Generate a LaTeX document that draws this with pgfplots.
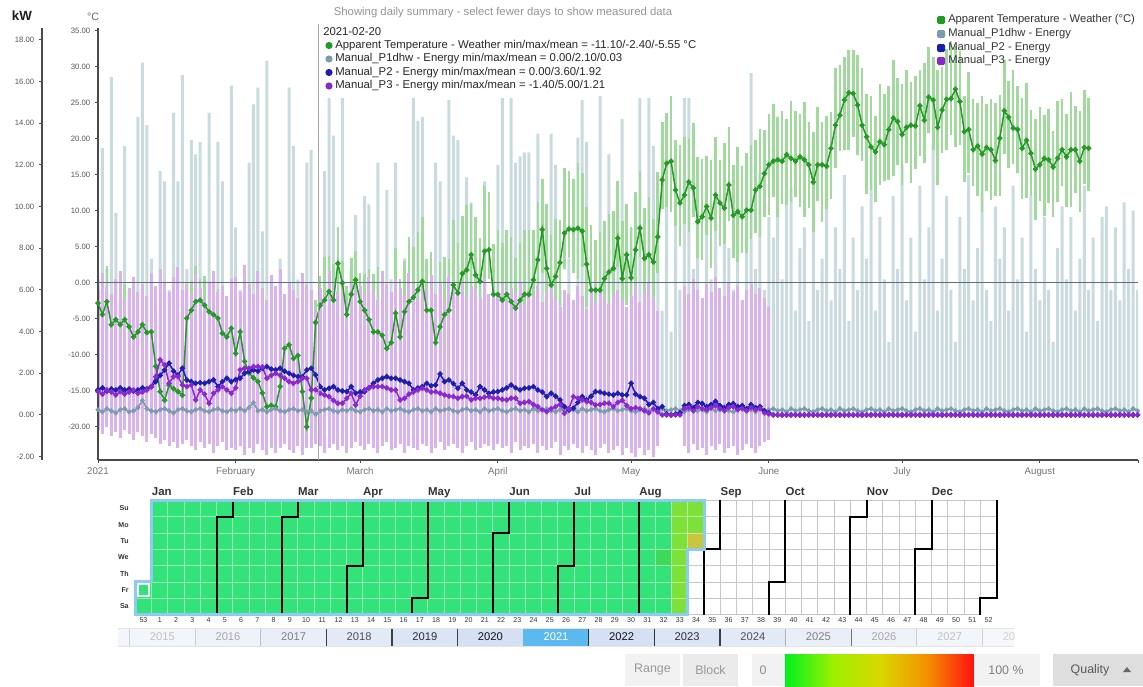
\documentclass[border=0pt]{standalone}
\usepackage{pgfplots}
\usepackage{pgfplotstable}
\pgfplotsset{compat=1.18}
\usepackage{fontspec}
\setmainfont{Liberation Sans}
\newlength\pxu \setlength\pxu{0.75pt}
\newcommand\fsz[1]{\fontsize{#1}{#1}\selectfont}

\definecolor{tgreen}{HTML}{239A23}
\definecolor{tgbar}{HTML}{A2D99D}
\definecolor{p1bar}{HTML}{C9DBDF}
\definecolor{p1line}{HTML}{7A9BB0}
\definecolor{p2line}{HTML}{1E1EAE}
\definecolor{p3line}{HTML}{8B27CF}
\definecolor{p3bar}{HTML}{D9B2EE}
\definecolor{axisc}{HTML}{4A4A4A}
\definecolor{zeroc}{HTML}{5D6B85}
\definecolor{ticklab}{HTML}{555555}
\definecolor{calgreen}{HTML}{33E37A}
\definecolor{calyg}{HTML}{7EE03A}
\definecolor{calolive}{HTML}{C9C53E}
\definecolor{calg2}{HTML}{3ED85A}
\definecolor{selblue}{HTML}{8CCBF2}
\definecolor{yr21}{HTML}{5CB9EF}
\definecolor{yb1}{HTML}{D5E0F5}
\definecolor{yb2}{HTML}{DCE5F6}
\definecolor{yb3}{HTML}{E2E9F7}
\definecolor{yb4}{HTML}{E9EEF8}
\definecolor{yb5}{HTML}{EEF2F9}
\definecolor{yb6}{HTML}{F2F5FA}
\definecolor{yb7}{HTML}{F5F7FB}
\definecolor{q0}{HTML}{00F020}
\definecolor{q1}{HTML}{9CF000}
\definecolor{q2}{HTML}{D8D800}
\definecolor{q3}{HTML}{F59000}
\definecolor{q4}{HTML}{FF1010}
\pgfdeclarehorizontalshading{qual}{100bp}{color(0bp)=(q0); color(25bp)=(q0); color(37.5bp)=(q1); color(50bp)=(q2); color(62.5bp)=(q3); color(75bp)=(q4); color(100bp)=(q4)}

\pgfplotstableread{
d lo hi t
0 -6.8 0.2 -2.8
1 -9.4 0.4 -4.4
2 -5.6 2.4 -2.6
3 -11.8 -2.8 -5.8
4 -9.1 -1.1 -5.1
5 -10.8 -3.8 -5.8
6 -9.1 -0.1 -5.1
7 -9.1 -2.1 -6.1
8 -12.5 -4.5 -7.5
9 -12.8 -1.8 -6.8
10 -9.8 -2.8 -5.8
11 -11.9 -2.9 -6.9
12 -9.8 -1.8 -6.8
13 -17.6 -8.6 -11.6
14 -19.1 -11.1 -15.1
15 -21.3 -14.3 -16.3
16 -18.2 -9.2 -14.2
17 -17.7 -10.7 -14.7
18 -20.1 -12.1 -15.1
19 -21.6 -10.6 -15.6
20 -8.9 -1.9 -4.9
21 -8.8 0.3 -3.8
22 -5.6 2.4 -2.6
23 -8.4 0.6 -2.4
24 -7.1 0.9 -3.1
25 -9.0 -2.0 -4.0
26 -8.4 0.6 -4.4
27 -7.9 -0.9 -4.9
28 -12.0 -4.0 -7.0
29 -13.5 -2.5 -7.5
30 -10.3 -3.3 -6.3
31 -14.8 -5.8 -9.8
32 -9.8 -1.8 -6.8
33 -16.9 -7.9 -10.9
34 -16.5 -8.5 -12.5
35 -18.2 -11.2 -13.2
36 -17.7 -8.7 -13.7
37 -18.3 -11.3 -15.3
38 -22.2 -14.2 -17.2
39 -23.0 -12.0 -17.0
40 -21.2 -14.2 -17.2
41 -19.4 -10.4 -14.4
42 -12.1 -4.1 -9.1
43 -14.6 -5.6 -8.6
44 -14.5 -6.5 -10.5
45 -15.1 -8.1 -10.1
46 -19.1 -10.1 -15.1
47 -23.0 -16.0 -20.0
48 -21.0 -13.0 -16.0
49 -11.1 -2.4 -5.5
50 -9.1 0.9 -3.1
51 -7.4 3.6 -2.4
52 -5.2 3.8 -1.2
53 -8.4 2.6 -2.4
54 -1.3 7.7 2.7
55 -6.0 3.0 0.0
56 -9.4 -0.4 -4.4
57 -6.6 3.4 -1.6
58 -3.6 4.4 0.4
59 -8.6 1.4 -2.6
60 -8.8 1.3 -3.8
61 -10.1 1.9 -5.1
62 -12.8 1.2 -6.8
63 -10.8 2.2 -6.8
64 -14.3 -0.3 -7.3
65 -14.1 -1.1 -9.1
66 -14.3 -2.3 -8.3
67 -9.2 4.8 -4.2
68 -11.5 0.5 -7.5
69 -10.0 3.0 -4.0
70 -9.6 6.4 -2.6
71 -7.0 5.0 -2.0
72 -7.0 7.0 -1.0
73 -3.8 9.2 0.2
74 -10.8 3.3 -3.8
75 -8.8 4.3 -3.8
76 -14.3 -2.3 -8.3
77 -11.1 2.9 -6.1
78 -8.4 3.6 -4.4
79 -9.8 3.3 -3.8
80 -7.3 8.7 -0.3
81 -6.4 5.6 -1.4
82 -4.7 9.3 1.3
83 -2.2 10.8 1.8
84 -3.1 10.9 3.9
85 -3.9 9.1 1.1
86 -5.8 6.2 0.2
87 -0.7 13.4 4.4
88 0.6 12.6 4.6
89 -7.6 5.4 -1.6
90 -8.6 7.4 -1.6
91 -7.4 5.6 -2.4
92 -7.6 7.4 -1.6
93 -6.6 6.4 -2.6
94 -10.5 3.5 -3.5
95 -7.4 5.6 -2.4
96 -7.6 7.4 -1.6
97 -5.6 7.4 -1.6
98 -6.6 7.4 0.4
99 -2.8 11.2 3.2
100 1.4 14.4 7.4
101 -2.0 11.0 2.0
102 -7.3 6.7 -0.3
103 -4.1 8.9 0.9
104 -3.2 8.8 2.8
105 1.9 15.9 6.9
106 3.5 15.5 7.5
107 1.4 14.4 7.4
108 0.6 16.6 7.6
109 2.2 15.2 7.2
110 -3.4 10.6 2.6
111 -5.0 8.0 -1.0
112 -8.0 6.0 -1.0
113 -6.0 7.0 -1.0
114 -4.4 8.6 0.6
115 -4.5 9.5 1.5
116 -3.0 10.0 2.0
117 2.2 14.2 6.2
118 -5.4 8.6 0.6
119 -3.1 10.9 3.9
120 -4.4 7.7 0.7
121 -1.4 12.6 4.6
122 3.6 15.6 7.6
123 -3.6 10.4 3.4
124 -1.1 11.9 3.9
125 -3.1 8.9 2.9
126 1.4 15.4 6.4
127 10.3 22.3 14.3
128 10.6 23.6 16.6
129 9.9 25.9 16.9
130 7.9 19.9 12.9
131 5.1 19.1 11.1
132 8.2 20.2 12.2
133 7.0 20.0 14.0
134 9.2 22.2 13.2
135 3.5 17.5 8.5
136 3.2 17.2 9.2
137 6.6 17.6 10.6
138 2.0 17.0 9.0
139 7.2 20.2 12.2
140 5.1 17.1 11.1
141 5.4 19.4 10.4
142 8.6 21.6 13.6
143 3.4 16.4 9.4
144 2.9 18.9 9.9
145 4.2 16.2 9.2
146 4.1 18.1 10.1
147 6.1 19.1 10.1
148 6.9 19.9 12.9
149 6.4 21.4 13.4
150 9.2 21.2 15.2
151 9.4 23.4 16.4
152 11.9 24.9 16.9
153 9.1 23.1 17.1
154 10.9 23.9 16.9
155 10.8 22.8 17.8
156 11.3 25.3 17.3
157 11.9 23.9 16.9
158 10.5 23.5 17.5
159 9.1 25.1 17.1
160 10.4 22.4 16.4
161 7.0 21.0 14.0
162 11.4 24.4 16.4
163 8.4 22.4 16.4
164 10.2 23.2 16.2
165 11.7 23.7 18.7
166 15.9 29.9 21.9
167 18.3 30.3 23.3
168 18.4 31.4 25.4
169 18.4 32.4 26.4
170 20.3 32.3 26.3
171 17.7 31.7 24.7
172 16.9 29.9 21.9
173 12.3 26.3 20.3
174 12.9 25.9 18.9
175 11.2 23.2 18.2
176 13.6 27.6 19.6
177 14.2 26.2 19.2
178 14.3 27.3 21.3
179 14.9 30.9 22.9
180 16.4 28.4 22.4
181 13.6 27.6 20.6
182 16.6 29.6 21.6
183 13.9 27.9 21.9
184 15.8 28.8 21.8
185 17.6 29.6 24.6
186 16.6 30.6 22.6
187 20.8 32.8 25.8
188 18.4 31.4 25.4
189 13.6 29.6 21.6
190 18.0 30.0 24.0
191 18.5 32.5 25.5
192 20.6 33.6 25.6
193 18.9 32.9 26.9
194 19.2 32.2 25.2
195 14.0 26.0 21.0
196 15.3 29.3 21.3
197 13.5 25.5 18.5
198 12.0 25.0 19.0
199 9.9 25.9 17.9
200 12.8 24.8 18.8
201 11.5 25.5 18.5
202 12.0 25.0 17.0
203 12.1 26.1 20.1
204 17.9 30.9 23.9
205 16.0 28.0 23.0
206 16.5 29.5 21.5
207 15.3 27.3 21.3
208 11.7 25.7 18.7
209 11.8 27.8 19.8
210 12.0 24.0 18.0
211 8.8 22.8 15.8
212 11.4 24.4 16.4
213 9.3 23.3 17.3
214 11.1 24.1 17.1
215 9.1 21.1 16.1
216 11.3 25.3 17.3
217 13.5 25.5 18.5
218 10.5 23.5 17.5
219 10.5 26.5 18.5
220 12.5 24.5 18.5
221 9.9 23.9 16.9
222 13.8 26.8 18.8
223 12.7 25.7 18.7
}\temptab

\pgfplotstableread{
d p1max p1 p2 p3
0 6.5 0.25 1.2 1.12
1 12.8 0.15 1.3 1.0
2 7.0 0.3 1.15 1.2
3 16.2 0.2 1.25 1.1
4 9.7 0.1 1.2 0.96
5 5.5 0.25 1.3 1.12
6 12.9 0.3 1.2 1.0
7 6.0 0.15 1.25 1.1
8 4.5 0.2 1.15 1.2
9 14.3 0.35 1.2 1.04
10 16.9 0.7 1.3 1.1
11 13.9 0.3 1.25 1.2
12 7.5 0.2 1.35 1.36
13 5.0 0.15 1.6 1.84
14 11.7 0.25 1.9 2.64
15 11.2 0.3 2.16 2.4
16 6.0 0.2 2.48 1.52
17 14.5 0.1 2.1 1.84
18 11.2 0.25 1.92 1.84
19 16.3 0.3 2.24 1.44
20 7.0 0.2 1.68 1.36
21 13.2 0.15 1.6 1.44
22 12.5 0.25 1.52 0.72
23 13.1 0.3 1.55 1.2
24 6.5 0.2 1.52 1.0
25 14.5 0.15 1.6 0.56
26 5.0 0.25 1.68 1.04
27 13.1 0.3 1.36 1.2
28 11.2 0.2 1.6 1.36
29 4.0 0.15 1.76 1.2
30 15.8 0.25 1.6 1.04
31 9.0 0.2 1.7 1.3
32 6.0 0.3 1.76 2.16
33 5.5 0.2 2.0 2.24
34 12.1 0.35 2.08 2.24
35 14.9 0.6 2.16 2.32
36 15.7 0.2 2.1 2.32
37 8.8 0.25 2.24 2.3
38 17.0 0.15 2.32 1.76
39 6.0 0.25 2.2 1.9
40 4.5 0.3 2.16 2.0
41 7.5 0.2 2.24 1.9
42 5.0 0.15 2.1 1.76
43 15.7 0.25 2.0 1.6
44 12.9 0.3 1.9 1.52
45 6.5 0.2 1.84 1.6
46 5.0 0.25 1.84 1.76
47 12.1 0.15 2.16 1.76
48 12.7 0.2 2.24 1.2
49 2.1 0.03 1.92 1.21
50 5.5 0.2 1.36 1.04
51 11.7 0.25 1.2 0.96
52 15.2 0.3 1.28 0.88
53 13.4 0.2 1.36 0.7
54 6.0 0.15 1.2 0.56
55 15.2 0.25 1.15 0.56
56 4.0 0.2 1.12 0.8
57 7.0 0.3 1.36 1.04
58 9.6 0.2 1.04 0.48
59 5.0 0.15 1.1 0.9
60 10.5 0.25 1.12 1.2
61 10.1 0.3 1.3 1.3
62 6.0 0.2 1.52 1.36
63 12.1 0.25 1.68 1.36
64 4.5 0.15 1.76 1.36
65 10.8 0.3 1.84 1.3
66 6.5 0.2 1.76 1.2
67 12.1 0.25 1.76 1.2
68 5.0 0.3 1.68 0.72
69 7.5 0.2 1.6 0.8
70 4.0 0.15 1.52 1.0
71 15.2 0.25 1.2 1.1
72 14.1 0.3 1.3 1.2
73 14.3 0.2 1.36 1.28
74 6.0 0.25 1.52 1.2
75 5.0 0.15 1.4 1.1
76 12.1 0.3 1.44 1.12
77 11.2 0.2 1.97 1.04
78 7.0 0.25 1.6 0.96
79 15.1 0.3 1.68 0.9
80 13.4 0.2 1.5 0.88
81 13.2 0.15 1.28 0.8
82 6.5 0.25 1.52 0.88
83 11.4 0.3 1.2 0.9
84 10.2 0.2 1.1 0.72
85 5.0 0.25 0.96 0.8
86 7.0 0.15 1.36 0.8
87 11.2 0.3 1.2 0.85
88 4.5 0.2 1.04 0.88
89 6.0 0.25 1.1 0.8
90 12.0 0.3 1.12 0.8
91 15.2 0.2 1.2 0.75
92 5.5 0.15 1.3 0.72
93 15.2 0.25 1.44 0.8
94 12.1 0.3 1.3 0.8
95 12.4 0.2 1.2 0.56
96 12.6 0.25 1.28 0.6
97 12.6 0.15 1.3 0.64
98 5.0 0.3 1.36 0.5
99 13.5 0.2 1.2 0.4
100 7.0 0.25 1.1 0.25
101 4.5 0.3 0.88 0.16
102 13.5 0.2 1.04 0.3
103 12.0 0.15 0.9 0.4
104 6.0 0.25 0.72 0.5
105 5.0 0.3 0.4 0.08
106 7.5 0.2 0.24 0.3
107 4.0 0.25 0.32 0.88
108 13.3 0.15 0.6 0.8
109 15.1 0.3 0.88 0.72
110 13.1 0.2 0.72 0.64
111 6.0 0.25 0.9 0.6
112 5.0 0.3 1.12 0.48
113 15.3 0.2 1.1 0.5
114 8.0 0.15 1.04 0.56
115 12.5 0.25 1.0 0.56
116 6.5 0.3 0.96 0.4
117 10.0 0.2 1.04 0.6
118 14.2 0.25 0.96 0.7
119 5.0 0.3 0.96 0.45
120 9.0 0.2 1.52 0.3
121 7.0 0.15 1.0 0.35
122 15.2 0.25 0.88 0.3
123 6.0 0.3 0.8 0.2
124 15.2 0.2 0.5 0.1
125 12.9 0.25 0.6 0.3
126 8.0 0.15 0.3 0.15
127 5.0 0.3 0.4 0
128 10.5 0.2 0.05 0
129 4.0 0.25 0 0
130 9.5 0.3 0.05 0
131 6.0 0.2 0.1 0
132 15.2 0.15 0.45 0.3
133 15.2 0.25 0.5 0.35
134 7.0 0.3 0.35 0.2
135 11.0 0.2 0.6 0.4
136 5.0 0.25 0.55 0.3
137 9.5 0.15 0.4 0.25
138 6.5 0.3 0.5 0.35
139 10.5 0.2 0.65 0.45
140 4.5 0.25 0.45 0.3
141 12.2 0.3 0.35 0.2
142 8.0 0.2 0.5 0.35
143 6.0 0.15 0.55 0.4
144 11.5 0.25 0.4 0.25
145 5.5 0.3 0.45 0.3
146 9.0 0.2 0.3 0.2
147 16.4 0.25 0.5 0.35
148 7.0 0.15 0.35 0.25
149 11.6 0.3 0.4 0.3
150 6.0 0.2 0.2 0.1
151 9.5 0.25 0.1 0.05
152 8.5 0.3 0 0
153 10.7 0.2 0 0
154 6.5 0.25 0 0
155 14.1 0.15 0 0
156 10.9 0.3 0 0
157 5.0 0.2 0 0
158 8.0 0.25 0 0
159 9.0 0.3 0 0
160 4.5 0.2 0 0
161 11.9 0.15 0 0
162 6.0 0.25 0 0
163 7.5 0.3 0 0
164 10.0 0.2 0 0
165 5.5 0.25 0 0
166 9.0 0.15 0 0
167 7.0 0.3 0 0
168 11.5 0.2 0 0
169 4.5 0.25 0 0
170 8.5 0.3 0 0
171 6.0 0.2 0 0
172 10.0 0.15 0 0
173 7.5 0.25 0 0
174 12.5 0.3 0 0
175 5.0 0.2 0 0
176 9.5 0.25 0 0
177 6.5 0.15 0 0
178 3.5 0.3 0 0
179 10.5 0.2 0 0
180 7.0 0.25 0 0
181 12.0 0.3 0 0
182 5.5 0.2 0 0
183 8.5 0.15 0 0
184 4.0 0.25 0 0
185 11.0 0.3 0 0
186 6.5 0.2 0 0
187 9.0 0.25 0 0
188 13.0 0.15 0 0
189 5.0 0.3 0 0
190 7.5 0.2 0 0
191 10.5 0.25 0 0
192 6.0 0.3 0 0
193 3.5 0.2 0 0
194 9.5 0.15 0 0
195 7.0 0.25 0 0
196 11.5 0.3 0 0
197 5.5 0.2 0 0
198 8.0 0.25 0 0
199 12.5 0.15 0 0
200 6.0 0.3 0 0
201 4.5 0.2 0 0
202 10.0 0.25 0 0
203 7.5 0.3 0 0
204 9.0 0.2 0 0
205 5.0 0.15 0 0
206 11.0 0.25 0 0
207 6.5 0.3 0 0
208 8.5 0.2 0 0
209 4.0 0.25 0 0
210 10.5 0.15 0 0
211 7.0 0.3 0 0
212 5.5 0.2 0 0
213 9.5 0.25 0 0
214 6.0 0.3 0 0
215 3.5 0.2 0 0
216 8.0 0.15 0 0
217 10.0 0.25 0 0
218 6.5 0.3 0 0
219 9.5 0.2 0 0
220 5.0 0.25 0 0
221 7.5 0.15 0 0
222 11.0 0.3 0 0
223 6.0 0.2 0 0
224 8.5 0.25 0 0
225 4.5 0.3 0 0
226 9.5 0.2 0 0
227 10.0 0.15 0 0
228 6.0 0.25 0 0
229 9.0 0.3 0 0
230 5.5 0.2 0 0
231 10.2 0.25 0 0
232 7.0 0.15 0 0
233 9.8 0.3 0 0
234 6.0 0.2 0 0
}\energytab

\pgfplotstableread{
d lo hi
0 -0.7 6.0
1 -0.9 6.8
2 -0.6 6.2
3 -1.0 5.8
4 -0.8 6.5
5 -1.1 6.9
6 -0.7 5.6
7 -0.9 6.1
8 -1.2 6.6
9 -0.8 5.9
10 -1.0 6.3
11 -1.3 5.7
12 -0.9 6.8
13 -1.1 6.2
14 -1.4 7.0
15 -1.2 6.4
16 -1.5 5.9
17 -1.3 6.6
18 -1.6 7.1
19 -1.4 6.0
20 -1.2 6.3
21 -1.5 5.8
22 -1.7 6.7
23 -1.3 6.1
24 -1.6 5.5
25 -1.4 6.4
26 -1.8 6.9
27 -1.5 5.9
28 -1.3 6.2
29 -1.7 5.7
30 -1.6 6.5
31 -1.7 6.6
32 -1.5 5.9
33 -1.9 7.2
34 -1.6 6.3
35 -1.8 5.8
36 -1.4 6.9
37 -1.7 6.1
38 -1.9 5.5
39 -1.5 6.7
40 -1.8 6.2
41 -1.6 7.0
42 -1.4 5.8
43 -1.7 6.4
44 -1.8 6.0
45 -1.5 5.6
46 -1.9 6.8
47 -1.6 6.3
48 -1.6 6.0
49 -1.4 5.0
50 -1.5 6.1
51 -1.8 5.7
52 -1.6 6.9
53 -1.4 6.2
54 -1.7 5.9
55 -1.5 6.6
56 -1.8 5.4
57 -1.6 6.3
58 -1.3 6.0
59 -1.5 6.2
60 -1.7 5.8
61 -1.4 6.6
62 -1.6 6.0
63 -1.8 5.5
64 -1.5 6.9
65 -1.3 6.3
66 -1.7 5.9
67 -1.6 6.5
68 -1.4 6.1
69 -1.8 5.7
70 -1.5 6.8
71 -1.6 6.2
72 -1.7 5.6
73 -1.4 6.4
74 -1.5 6.0
75 -1.8 6.7
76 -1.6 5.8
77 -1.3 6.3
78 -1.7 5.5
79 -1.5 6.6
80 -1.4 6.1
81 -1.6 5.9
82 -1.8 6.4
83 -1.5 5.7
84 -1.3 6.2
85 -1.7 6.0
86 -1.6 5.6
87 -1.4 6.5
88 -1.5 5.8
89 -1.7 6.1
90 -1.4 5.9
91 -1.6 6.3
92 -1.5 5.5
93 -1.8 6.1
94 -1.3 5.8
95 -1.7 6.4
96 -1.5 5.3
97 -1.6 6.0
98 -1.4 5.7
99 -1.8 6.2
100 -1.5 5.4
101 -1.7 5.9
102 -1.6 6.3
103 -1.3 5.6
104 -1.9 5.2
105 -1.5 6.0
106 -1.7 5.8
107 -1.4 5.5
108 -1.6 6.2
109 -1.8 5.7
110 -1.5 5.1
111 -1.7 5.9
112 -1.9 5.4
113 -1.6 6.1
114 -1.4 5.6
115 -1.8 5.3
116 -1.7 5.8
117 -1.5 6.0
118 -1.9 5.5
119 -1.6 5.2
120 -1.8 5.7
121 -2.0 6.2
122 -1.6 5.4
123 -1.9 5.9
124 -1.7 6.4
125 -2.0 5.6
126 -1.5 5.0
132 -1.5 6.2
133 -1.8 5.8
134 -1.4 6.5
135 -1.7 6.0
136 -1.6 5.6
137 -1.9 6.3
138 -1.5 5.9
139 -1.7 6.6
140 -1.4 6.1
141 -1.8 5.7
142 -1.6 6.4
143 -1.5 5.9
144 -1.9 6.2
145 -1.7 5.5
146 -1.4 6.0
147 -1.6 6.3
148 -1.8 5.8
149 -1.5 6.1
150 -1.3 5.6
151 -1.2 5.2
}\purpletab

\pgfplotstableread{
c Y
5.5 6.5
5.5 5.5
4.5 5.5
4.5 -0.5
nan nan
9.5 6.5
9.5 5.5
8.5 5.5
8.5 -0.5
nan nan
13.5 6.5
13.5 2.5
12.5 2.5
12.5 -0.5
nan nan
17.5 6.5
17.5 0.5
16.5 0.5
16.5 -0.5
nan nan
22.5 6.5
22.5 4.5
21.5 4.5
21.5 -0.5
nan nan
26.5 6.5
26.5 2.5
25.5 2.5
25.5 -0.5
nan nan
30.5 6.5
30.5 -0.5
nan nan
35.5 6.5
35.5 3.5
34.5 3.5
34.5 -0.5
nan nan
39.5 6.5
39.5 1.5
38.5 1.5
38.5 -0.5
nan nan
44.5 6.5
44.5 5.5
43.5 5.5
43.5 -0.5
nan nan
48.5 6.5
48.5 3.5
47.5 3.5
47.5 -0.5
nan nan
52.5 6.5
52.5 0.5
51.5 0.5
51.5 -0.5
}\monthlines

\pgfplotsset{
  plotarea/.style={at={(98\pxu,-460\pxu)}, anchor=south west, scale only axis,
     width=1040\pxu, height=432\pxu, xmin=0, xmax=234.1},
  kwdata/.style={plotarea, ymin=-2.16, ymax=18.56, hide axis},
  cdata/.style={plotarea, ymin=-24.6, ymax=35.4, hide axis},
  linemark/.style={line width=1.5\pxu, mark=*, mark size=1.9\pxu, mark options={solid}},
}
\tikzset{monthlab/.style={anchor=base west, font=\bfseries\fsz{8.6}, text=black!80, inner sep=0pt, yshift=5\pxu}}

\begin{document}
\begin{tikzpicture}
\path[use as bounding box] (0,0) rectangle (1143\pxu,-686\pxu);

% P1dhw range bars
\begin{axis}[kwdata]
\addplot[ybar, bar width=3\pxu, bar shift=0pt, fill=p1bar, draw=none] table[x=d,y=p1max]{\energytab};
\end{axis}
% temperature range bars
\begin{axis}[cdata]
\addplot[quiver={u=0,v={\thisrow{hi}-\thisrow{lo}}}, draw=tgbar, line width=2.6\pxu] table[x=d,y=lo]{\temptab};
\end{axis}
% P3 range bars
\begin{axis}[kwdata]
\addplot[quiver={u=0,v={\thisrow{hi}-\thisrow{lo}}}, draw=p3bar, line width=3\pxu] table[x=d,y=lo]{\purpletab};
\end{axis}
% main temperature axis
\begin{axis}[plotarea, ymin=-24.6, ymax=35.4, clip=false,
  axis x line*=bottom, axis y line*=left,
  axis line style={-, draw=axisc, line width=1.6\pxu},
  tick align=outside, major tick length=3\pxu,
  tick style={draw=axisc, line width=1\pxu},
  ytick={-20,-15,...,35},
  yticklabel style={font=\fsz{5.8}, text=ticklab, /pgf/number format/.cd, fixed, fixed zerofill, precision=2, assume math mode=true},
  xtick={0,31,59,90,120,151,181,212},
  xticklabels={2021,February,March,April,May,June,July,August},
  xticklabel style={font=\fsz{7.3}, text=black!55},
  extra x ticks={234.1}, extra x tick labels={},
]
\draw[zeroc, line width=1\pxu] (axis cs:0,0) -- (axis cs:234.1,0);
\addplot[tgreen, linemark] table[x=d,y=t]{\temptab};
\end{axis}
% energy mean lines
\begin{axis}[kwdata]
\addplot[p1line, linemark, mark size=1.6\pxu] table[x=d,y=p1]{\energytab};
\addplot[p2line, linemark] table[x=d,y=p2]{\energytab};
\addplot[p3line, linemark] table[x=d,y=p3]{\energytab};
\end{axis}
% kW ruler
\begin{axis}[at={(42\pxu,-460\pxu)}, anchor=south west, scale only axis,
  width=1\pxu, height=432\pxu, xmin=0, xmax=1, ymin=-2.16, ymax=18.56,
  hide x axis, axis y line*=left,
  axis line style={-, draw=axisc, line width=1.6\pxu},
  tick align=outside, major tick length=3\pxu,
  tick style={draw=axisc, line width=1\pxu},
  ytick={-2,0,...,18},
  yticklabel style={font=\fsz{5.8}, text=ticklab, /pgf/number format/.cd, fixed, fixed zerofill, precision=2, assume math mode=true},
]
\addplot[draw=none] coordinates {(0,0)};
\end{axis}

% calendar
\begin{axis}[at={(135.375\pxu,-614.5\pxu)}, anchor=south west, scale only axis,
  width=861.25\pxu, height=114.1\pxu,
  xmin=-0.5, xmax=52.5, ymin=-0.5, ymax=6.5, clip=false,
  axis line style={draw=none}, tick style={draw=none}, major tick length=0pt,
  xtick={0,...,52},
  xticklabels={53,1,2,3,4,5,6,7,8,9,10,11,12,13,14,15,16,17,18,19,20,21,22,23,24,25,26,27,28,29,30,31,32,33,34,35,36,37,38,39,40,41,42,43,44,45,46,47,48,49,50,51,52},
  ytick={0,...,6},
  yticklabels={Sa,Fr,Th,We,Tu,Mo,Su},
  xticklabel style={font=\fsz{5.3}, text=black!80, inner sep=1pt, yshift=-1.5\pxu},
  yticklabel style={font=\bfseries\fsz{5.3}, text=black!80, xshift=-2\pxu},
]
\addplot[fill=calgreen, draw=none] coordinates {(-0.5,-0.5) (32.5,-0.5) (32.5,6.5) (0.5,6.5) (0.5,1.5) (-0.5,1.5)};
\addplot[fill=calyg, draw=none] coordinates {(32.5,-0.5) (33.5,-0.5) (33.5,4.5) (34.5,4.5) (34.5,6.5) (32.5,6.5)};
\addplot[fill=calolive, draw=none] coordinates {(33.5,3.5) (34.5,3.5) (34.5,4.5) (33.5,4.5)};
\addplot[fill=calg2, draw=none] coordinates {(31.5,2.5) (32.5,2.5) (32.5,3.5) (31.5,3.5)};
\pgfplotsinvokeforeach{0.5,1.5,...,33.5}{\draw[white, opacity=0.45, line width=0.8\pxu] (axis cs:#1,-0.5) -- (axis cs:#1,6.5);}
\pgfplotsinvokeforeach{0.5,1.5,...,5.5}{\draw[white, opacity=0.45, line width=0.8\pxu] (axis cs:-0.5,#1) -- (axis cs:34.5,#1);}
\pgfplotsinvokeforeach{34.5,35.5,...,51.5}{\draw[black!22, line width=0.8\pxu] (axis cs:#1,-0.5) -- (axis cs:#1,6.5);}
\draw[black!22, line width=0.8\pxu] (axis cs:33.5,-0.5) -- (axis cs:33.5,3.5);
\draw[black!22, line width=0.8\pxu] (axis cs:52.5,0.5) -- (axis cs:52.5,6.5);
\pgfplotsinvokeforeach{3.5,4.5,5.5,6.5}{\draw[black!22, line width=0.8\pxu] (axis cs:34.5,#1) -- (axis cs:52.5,#1);}
\pgfplotsinvokeforeach{0.5,1.5,2.5}{\draw[black!22, line width=0.8\pxu] (axis cs:33.5,#1) -- (axis cs:52.5,#1);}
\draw[black!22, line width=0.8\pxu] (axis cs:33.5,-0.5) -- (axis cs:51.5,-0.5);
\addplot[black, line width=2\pxu, unbounded coords=jump] table[x=c,y=Y]{\monthlines};
\draw[selblue, line width=3\pxu, line join=miter] (axis cs:0.5,6.5) -- (axis cs:34.5,6.5) -- (axis cs:34.5,3.5) -- (axis cs:33.5,3.5) -- (axis cs:33.5,-0.5) -- (axis cs:-0.5,-0.5) -- (axis cs:-0.5,1.5) -- (axis cs:0.5,1.5) -- cycle;
\draw[white, line width=2\pxu] (axis cs:-0.36,0.64) rectangle (axis cs:0.36,1.36);
\node[monthlab] at (axis cs:0.5,6.5) {Jan};
\node[monthlab] at (axis cs:5.5,6.5) {Feb};
\node[monthlab] at (axis cs:9.5,6.5) {Mar};
\node[monthlab] at (axis cs:13.5,6.5) {Apr};
\node[monthlab] at (axis cs:17.5,6.5) {May};
\node[monthlab] at (axis cs:22.5,6.5) {Jun};
\node[monthlab] at (axis cs:26.5,6.5) {Jul};
\node[monthlab] at (axis cs:30.5,6.5) {Aug};
\node[monthlab] at (axis cs:35.5,6.5) {Sep};
\node[monthlab] at (axis cs:39.5,6.5) {Oct};
\node[monthlab] at (axis cs:44.5,6.5) {Nov};
\node[monthlab] at (axis cs:48.5,6.5) {Dec};
\end{axis}

\begin{scope}[x=\pxu, y=-\pxu]
\node[font=\bfseries\fsz{10}, text=black!88] at (22,16) {kW};
\node[font=\fsz{8}, text=black!60] at (93,17) {°C};
\node[font=\fsz{8.5}, text=black!42] at (503,13) {Showing daily summary - select fewer days to show measured data};
\draw[black!35, line width=0.8\pxu] (318,24) -- (318,460);
\node[anchor=west, font=\fsz{8.5}, text=black!85, inner sep=0pt] at (323,32) {2021-02-20};
\fill[tgreen] (329,45.5) circle (3.6\pxu);
\fill[p1line] (329,59) circle (3.6\pxu);
\fill[p2line] (329,72.5) circle (3.6\pxu);
\fill[p3line] (329,86) circle (3.6\pxu);
\node[anchor=west, font=\fsz{8.5}, text=black!85, inner sep=0pt] at (335,45.5) {Apparent Temperature - Weather min/max/mean = -11.10/-2.40/-5.55 °C};
\node[anchor=west, font=\fsz{8.5}, text=black!85, inner sep=0pt] at (335,59) {Manual\_P1dhw - Energy min/max/mean = 0.00/2.10/0.03};
\node[anchor=west, font=\fsz{8.5}, text=black!85, inner sep=0pt] at (335,72.5) {Manual\_P2 - Energy min/max/mean = 0.00/3.60/1.92};
\node[anchor=west, font=\fsz{8.5}, text=black!85, inner sep=0pt] at (335,86) {Manual\_P3 - Energy min/max/mean = -1.40/5.00/1.21};
\fill[tgreen, rounded corners=1.5\pxu] (937,16) rectangle (945,24);
\fill[p1line, rounded corners=1.5\pxu] (937,30) rectangle (945,38);
\fill[p2line, rounded corners=1.5\pxu] (937,44) rectangle (945,52);
\fill[p3line, rounded corners=1.5\pxu] (937,57) rectangle (945,65);
\node[anchor=west, font=\fsz{8.4}, text=black!80, inner sep=0pt] at (948,20) {Apparent Temperature - Weather (°C)};
\node[anchor=west, font=\fsz{8.4}, text=black!80, inner sep=0pt] at (948,34) {Manual\_P1dhw - Energy};
\node[anchor=west, font=\fsz{8.4}, text=black!80, inner sep=0pt] at (948,48) {Manual\_P2 - Energy};
\node[anchor=west, font=\fsz{8.4}, text=black!80, inner sep=0pt] at (948,61) {Manual\_P3 - Energy};

\begin{scope}
\clip (118,628) rectangle (1014,646);
\fill[yb6] (118,628) rectangle (1014,646);
\foreach \yr/\cx/\bg/\tc in {2015/162.4/yb6/24,2016/228/yb5/34,2017/293.6/yb4/50,2018/359.2/yb3/68,2019/424.8/yb2/82,2020/490.4/yb1/92,2022/621.6/yb1/92,2023/687.2/yb2/82,2024/752.8/yb3/68,2025/818.4/yb4/50,2026/884/yb5/34,2027/949.6/yb6/24,2028/1015.2/yb7/18}{
  \fill[\bg] (\cx-32.8,628) rectangle (\cx+32.8,646);
  \node[font=\fsz{8.4}, text=black!\tc] at (\cx,637) {\yr};
}
\fill[yr21] (523.2,628) rectangle (588.8,646);
\node[font=\fsz{8.4}, text=white] at (556,637) {2021};
\foreach \sx/\sc in {129.6/18,195.2/20,260.8/25,326.4/75,392/75,457.6/75,588.8/80,654.4/80,720/75,785.6/30,851.2/55,916.8/20,982.4/18}{
  \draw[black!\sc, line width=1.2\pxu] (\sx,628) -- (\sx,646);
}
\draw[black!10, line width=0.8\pxu] (118,628) -- (1014,628) (118,646) -- (1014,646);
\end{scope}

\fill[black!5] (625,654) rectangle (680,686);
\node[font=\fsz{9.3}, text=black!40] at (652.5,670) {Range};
\fill[black!8] (683,654) rectangle (738,686);
\node[font=\fsz{9.3}, text=black!40] at (710.5,670) {Block};
\fill[black!5] (752,654) rectangle (785,686);
\node[font=\fsz{9.3}, text=black!45] at (763,670) {0};
\shade[shading=qual] (785,654) rectangle (974,686);
\fill[black!5] (974,654) rectangle (1040,686);
\node[font=\fsz{9.3}, text=black!50] at (1006,670) {100 \%};
\fill[black!13] (1053,654) rectangle (1143,686);
\node[font=\fsz{9.3}, text=black!65] at (1090,670) {Quality};
\fill[black!60] (1123,672) -- (1131,672) -- (1127,667) -- cycle;
\end{scope}
\end{tikzpicture}
\end{document}
